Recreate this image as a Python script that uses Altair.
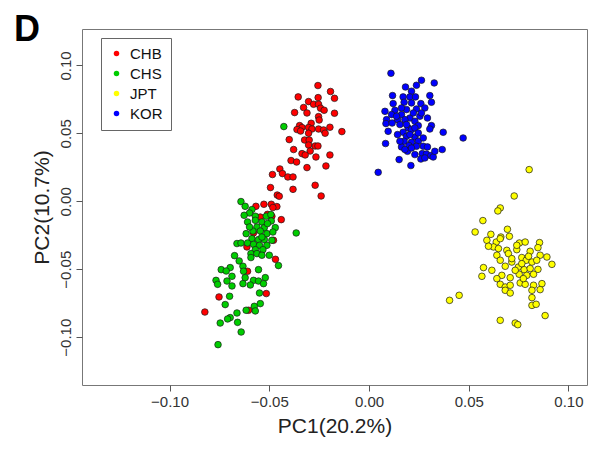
import altair as alt
import pandas as pd

# PCA coordinates (PC1, PC2)
CHB = [(-0.0256,0.0852),(-0.0193,0.0808),(-0.0173,0.0758),(-0.0355,0.0768),(-0.0255,0.0763),
       (-0.0303,0.0734),(-0.0278,0.0714),(-0.0253,0.0714),(-0.0328,0.0690),(-0.0243,0.0685),
       (-0.0225,0.0670),(-0.0373,0.0653),(-0.0311,0.0650),(-0.0173,0.0648),(-0.0253,0.0623),
       (-0.0250,0.0598),(-0.0290,0.0574),(-0.0348,0.0557),(-0.0336,0.0543),(-0.0303,0.0543),
       (-0.0361,0.0528),(-0.0343,0.0517),(-0.0286,0.0532),(-0.0253,0.0532),(-0.0228,0.0525),
       (-0.0196,0.0545),(-0.0136,0.0513),(-0.0220,0.0501),(-0.0303,0.0501),(-0.0323,0.0451),
       (-0.0300,0.0451),(-0.0400,0.0454),(-0.0303,0.0414),(-0.0270,0.0407),(-0.0256,0.0407),
       (-0.0378,0.0381),(-0.0295,0.0370),(-0.0336,0.0351),(-0.0320,0.0341),(-0.0196,0.0341),
       (-0.0266,0.0326),(-0.0391,0.0300),(-0.0363,0.0289),(-0.0216,0.0260),(-0.0311,0.0248),
       (-0.0447,0.0238),(-0.0434,0.0204),(-0.0484,0.0197),(-0.0407,0.0179),(-0.0381,0.0179),
       (-0.0270,0.0118),(-0.0494,0.0101),(-0.0381,0.0088),(-0.0460,0.0046),(-0.0450,0.0037),
       (-0.0240,0.0039),(-0.0527,-0.0022),(-0.0490,-0.0022),(-0.0462,-0.0039),
       (-0.0567,-0.0037),(-0.0482,-0.0046),(-0.0545,-0.0116),(-0.0509,-0.0096),(-0.0487,-0.0110),
       (-0.0440,-0.0135),(-0.0579,-0.0233),(-0.0479,-0.0287),(-0.0612,-0.0336),(-0.0469,-0.0427),
       (-0.0609,-0.0515),(-0.0515,-0.0679),(-0.0752,-0.0704),(-0.0823,-0.0815),(-0.0604,-0.0802)]

CHS = [(-0.0642,-0.0002),(-0.0621,-0.0037),(-0.0587,-0.0061),(-0.0599,-0.0086),(-0.0626,-0.0103),
       (-0.0570,-0.0110),(-0.0515,-0.0110),(-0.0492,-0.0098),(-0.0609,-0.0152),(-0.0570,-0.0140),
       (-0.0537,-0.0152),(-0.0490,-0.0145),(-0.0562,-0.0189),(-0.0525,-0.0194),(-0.0470,-0.0194),
       (-0.0582,-0.0219),(-0.0545,-0.0219),(-0.0616,-0.0238),(-0.0512,-0.0238),(-0.0482,-0.0226),
       (-0.0365,-0.0233),(-0.0587,-0.0275),(-0.0554,-0.0282),(-0.0525,-0.0282),(-0.0487,-0.0287),
       (-0.0662,-0.0311),(-0.0642,-0.0307),(-0.0609,-0.0307),(-0.0579,-0.0317),(-0.0549,-0.0324),
       (-0.0512,-0.0324),(-0.0570,-0.0356),(-0.0532,-0.0356),(-0.0592,-0.0385),(-0.0562,-0.0385),
       (-0.0537,-0.0397),(-0.0500,-0.0397),(-0.0674,-0.0400),(-0.0592,-0.0414),(-0.0651,-0.0439),
       (-0.0454,-0.0473),(-0.0632,-0.0478),(-0.0696,-0.0488),(-0.0741,-0.0503),(-0.0716,-0.0513),
       (-0.0629,-0.0515),(-0.0554,-0.0503),(-0.0687,-0.0552),(-0.0621,-0.0562),(-0.0520,-0.0562),
       (-0.0767,-0.0582),(-0.0712,-0.0587),(-0.0579,-0.0582),(-0.0554,-0.0587),(-0.0759,-0.0611),
       (-0.0632,-0.0606),(-0.0595,-0.0616),(-0.0687,-0.0623),(-0.0529,-0.0606),(-0.0549,-0.0675),
       (-0.0699,-0.0699),(-0.0545,-0.0753),(-0.0575,-0.0773),(-0.0721,-0.0760),(-0.0616,-0.0802),
       (-0.0570,-0.0807),(-0.0662,-0.0822),(-0.0696,-0.0856),(-0.0709,-0.0866),(-0.0746,-0.0896),
       (-0.0659,-0.0891),(-0.0641,-0.0962),(-0.0757,-0.1055),(-0.0427,0.0550),(-0.0599,-0.0189),
       (-0.0509,-0.0164),(-0.0537,-0.0263)]

JPT = [(0.0803,0.0233),(0.0728,0.0039),(0.0658,-0.0049),(0.0646,-0.0071),(0.0571,-0.0142),
       (0.0532,-0.0226),(0.0694,-0.0206),(0.0611,-0.0243),(0.0591,-0.0287),(0.0661,-0.0263),
       (0.0704,-0.0258),(0.0638,-0.0300),(0.0754,-0.0307),(0.0783,-0.0300),(0.0855,-0.0304),
       (0.0624,-0.0336),(0.0649,-0.0348),(0.0691,-0.0361),(0.0741,-0.0356),(0.0808,-0.0368),
       (0.0847,-0.0341),(0.0641,-0.0397),(0.0699,-0.0385),(0.0766,-0.0414),(0.0788,-0.0434),
       (0.0858,-0.0397),(0.0892,-0.0410),(0.0917,-0.0464),(0.0658,-0.0434),(0.0716,-0.0447),
       (0.0817,-0.0447),(0.0574,-0.0488),(0.0616,-0.0508),(0.0666,-0.0545),(0.0683,-0.0478),
       (0.0749,-0.0484),(0.0778,-0.0503),(0.0808,-0.0495),(0.0847,-0.0501),(0.0566,-0.0552),
       (0.0708,-0.0562),(0.0753,-0.0537),(0.0791,-0.0545),(0.0825,-0.0537),(0.0658,-0.0611),
       (0.0683,-0.0631),(0.0708,-0.0618),(0.0758,-0.0601),(0.0783,-0.0611),(0.0825,-0.0618),
       (0.0867,-0.0606),(0.0683,-0.0655),(0.0708,-0.0675),(0.0817,-0.0655),(0.0858,-0.0650),
       (0.0817,-0.0709),(0.0817,-0.0766),(0.0838,-0.0758),(0.0404,-0.0729),(0.0452,-0.0692),
       (0.0883,-0.0841),(0.0658,-0.0876),(0.0733,-0.0896),(0.0746,-0.0908),(0.0741,-0.0324),
       (0.0716,-0.0422),(0.0766,-0.0459),(0.0800,-0.0405),(0.0733,-0.0508),(0.0641,-0.0569),
       (0.0774,-0.0569),(0.0841,-0.0434),(0.0658,-0.0275),(0.0599,-0.0331)]

KOR = [(0.0110,0.0942),(0.0327,0.0871),(0.0263,0.0891),(0.0238,0.0854),(0.0183,0.0841),
       (0.0213,0.0810),(0.0305,0.0778),(0.0118,0.0778),(0.0171,0.0768),(0.0205,0.0768),
       (0.0233,0.0768),(0.0313,0.0729),(0.0121,0.0719),(0.0176,0.0729),(0.0213,0.0724),
       (0.0260,0.0719),(0.0080,0.0662),(0.0130,0.0670),(0.0188,0.0675),(0.0238,0.0679),
       (0.0280,0.0687),(0.0113,0.0638),(0.0163,0.0638),(0.0205,0.0613),(0.0255,0.0626),
       (0.0293,0.0613),(0.0088,0.0601),(0.0143,0.0601),(0.0180,0.0601),(0.0230,0.0589),
       (0.0085,0.0572),(0.0116,0.0576),(0.0155,0.0565),(0.0247,0.0557),(0.0196,0.0540),
       (0.0313,0.0557),(0.0305,0.0532),(0.0096,0.0515),(0.0171,0.0508),(0.0213,0.0528),
       (0.0143,0.0491),(0.0188,0.0478),(0.0230,0.0473),(0.0372,0.0508),(0.0472,0.0466),
       (0.0176,0.0442),(0.0213,0.0434),(0.0247,0.0442),(0.0083,0.0425),(0.0163,0.0400),
       (0.0200,0.0410),(0.0272,0.0405),(0.0293,0.0400),(0.0367,0.0381),(0.0193,0.0368),
       (0.0230,0.0344),(0.0267,0.0351),(0.0288,0.0348),(0.0310,0.0336),(0.0322,0.0326),
       (0.0151,0.0307),(0.0210,0.0263),(0.0260,0.0311),(0.0046,0.0213),(0.0163,0.0687),
       (0.0222,0.0650),(0.0263,0.0650),(0.0138,0.0626),(0.0188,0.0565),(0.0230,0.0540),
       (0.0205,0.0491),(0.0247,0.0503),(0.0272,0.0466),(0.0155,0.0442),(0.0238,0.0405),
       (0.0180,0.0381),(0.0213,0.0392),(0.0330,0.0368),(0.0280,0.0319)]

groups = ["CHB", "CHS", "JPT", "KOR"]
colors = ["#FF0000", "#00CD00", "#FFFF00", "#0000FF"]
x_ticks = [-0.10, -0.05, 0.00, 0.05, 0.10]
y_ticks = [-0.10, -0.05, 0.00, 0.05, 0.10]
x_domain = [-0.1439, 0.1093]
y_domain = [-0.1352, 0.1268]

rows = []
for name, pts in zip(groups, [CHB, CHS, JPT, KOR]):
    for px, py in pts:
        rows.append({"PC1": px, "PC2": py, "pop": name})
df = pd.DataFrame(rows)

FONT = "Liberation Sans"

points = alt.Chart(df).mark_point(
    filled=True, shape="circle", size=44, stroke="#1a1a1a", strokeWidth=0.7, opacity=1
).encode(
    x=alt.X("PC1:Q", scale=alt.Scale(domain=x_domain, nice=False, zero=False),
            axis=alt.Axis(values=x_ticks, format=".2f", title="PC1(20.2%)",
                          titleX=252.5, titleY=41, titleBaseline="middle", titleAlign="center")),
    y=alt.Y("PC2:Q", scale=alt.Scale(domain=y_domain, nice=False, zero=False),
            axis=alt.Axis(values=y_ticks, format=".2f", title="PC2(10.7%)",
                          labelAngle=270, labelAlign="center", labelBaseline="bottom",
                          titleAngle=270, titleX=-40, titleY=178, titleBaseline="middle",
                          titleAlign="center")),
    color=alt.Color("pop:N", scale=alt.Scale(domain=groups, range=colors),
                    legend=alt.Legend(title=None, orient="none", legendX=19, legendY=9,
                                      strokeColor="#666", fillColor="white", padding=8,
                                      labelFontSize=15, labelFont=FONT, labelColor="#111",
                                      symbolSize=30, symbolType="circle", symbolStrokeWidth=0,
                                      rowPadding=4, labelOffset=6)),
)

label_d = alt.Chart(pd.DataFrame({"t": ["D"]})).mark_text(
    align="left", baseline="alphabetic", fontSize=36, fontWeight="bold", font=FONT, color="black"
).encode(text="t:N", x=alt.value(-68), y=alt.value(12))

chart = alt.layer(points, label_d).properties(
    width=505, height=356,
    padding={"left": 74, "top": 21, "right": 5, "bottom": 65},
    autosize=alt.AutoSizeParams(type="none"),
).configure_view(
    stroke="#777", strokeWidth=1
).configure_axis(
    grid=False, domain=False, tickSize=6, tickColor="#555", tickWidth=1,
    labelFont=FONT, labelFontSize=15, labelColor="#333", labelPadding=3,
    titleFont=FONT, titleFontSize=21, titleFontWeight="normal", titleColor="#222",
    labelFlush=False, labelOverlap=False
)

chart.save("out.html", embed_options={"renderer": "svg", "actions": False})
